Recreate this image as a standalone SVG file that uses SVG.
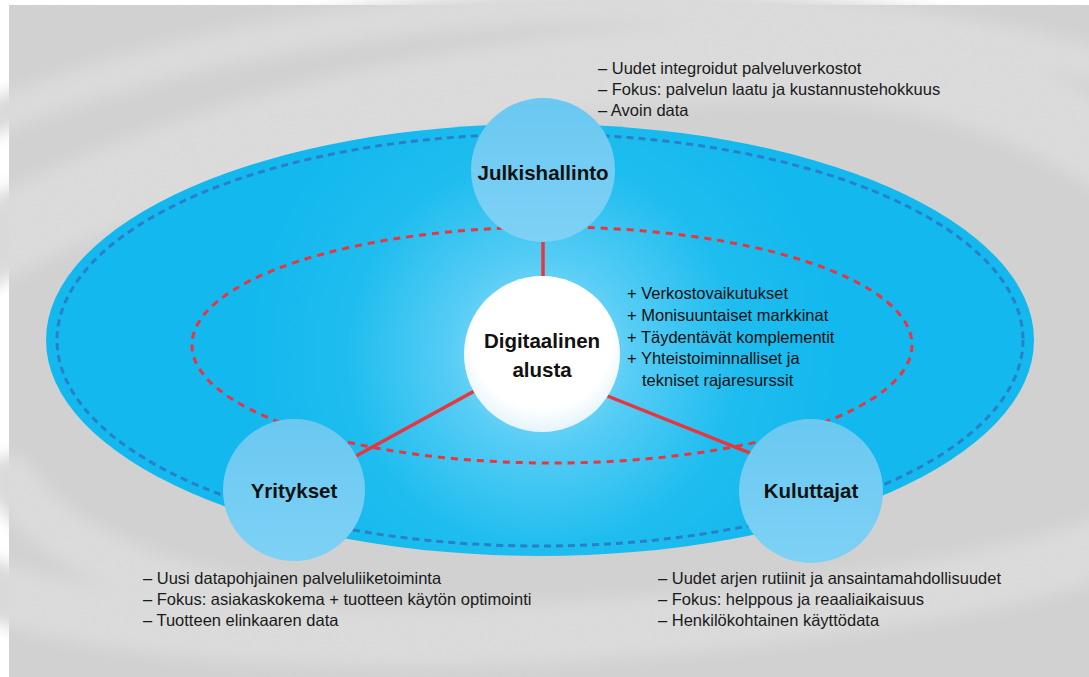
<svg xmlns="http://www.w3.org/2000/svg" width="1089" height="677" viewBox="0 0 1089 677">
<defs>
<style>
.lbl{font-family:"Liberation Sans",Arial,sans-serif;font-size:16.5px;fill:#1a1a1a}
.plus{font-family:"Liberation Sans",Arial,sans-serif;font-size:16.5px;fill:#111}
.ttl{font-family:"Liberation Sans",Arial,sans-serif;font-size:20.5px;font-weight:bold;fill:#111;text-anchor:middle}
.sat{fill:url(#satG)}
.conn{stroke:#e8363f;stroke-width:3.5;fill:none}
</style>
<radialGradient id="ellG" gradientUnits="userSpaceOnUse" cx="542" cy="354" r="300">
<stop offset="0" stop-color="#a8e6fa"/>
<stop offset="0.3" stop-color="#58cdf5"/>
<stop offset="0.65" stop-color="#1fbdef"/>
<stop offset="1" stop-color="#12b8ee"/>
</radialGradient>
<linearGradient id="satG" x1="0" y1="0" x2="0" y2="1">
<stop offset="0" stop-color="#6ac8f1"/>
<stop offset="1" stop-color="#7ed1f5"/>
</linearGradient>
<radialGradient id="whG" cx="0.5" cy="0.4" r="0.6">
<stop offset="0.75" stop-color="#ffffff"/>
<stop offset="1" stop-color="#e4f4fb"/>
</radialGradient>
<filter id="blur" x="-20%" y="-20%" width="140%" height="140%">
<feGaussianBlur stdDeviation="8"/>
</filter>
<filter id="noise" x="0" y="0" width="100%" height="100%">
<feTurbulence type="fractalNoise" baseFrequency="0.9" numOctaves="2" seed="3" result="n"/>
<feColorMatrix type="matrix" values="0 0 0 0 1  0 0 0 0 1  0 0 0 0 1  0 0 0 0.08 0" in="n"/>
</filter>
</defs>
<rect x="0" y="0" width="1089" height="677" fill="#ffffff"/>
<g id="background">
<rect x="9" y="5" width="1080" height="672" fill="#cfcfcf"/>
<g filter="url(#blur)" fill="none" stroke="#d9d9d9" stroke-linecap="round">
<path d="M -40 130 C 200 30, 500 -10, 760 10 C 900 20, 1000 40, 1120 70" stroke-width="35"/>
<path d="M -40 260 C 150 150, 450 70, 760 60 C 950 60, 1050 110, 1120 160" stroke-width="80"/>
<path d="M -40 580 C 150 650, 500 650, 800 610 C 950 590, 1050 570, 1120 540" stroke-width="60"/>
<path d="M 10 480 C 60 560, 200 600, 300 610" stroke-width="50"/>
</g>
<rect x="9" y="5" width="1080" height="672" filter="url(#noise)"/>
</g>
<g id="platform-field">
<ellipse cx="540" cy="340" rx="494" ry="216" fill="url(#ellG)"/>
<ellipse cx="540" cy="340" rx="483" ry="206" fill="none" stroke="#2b7fc6" stroke-width="3" stroke-dasharray="7 5"/>
<ellipse cx="552" cy="345" rx="360" ry="118" fill="none" stroke="#e8363f" stroke-width="3" stroke-dasharray="7 6"/>
</g>
<g id="connectors">
<line class="conn" x1="543" y1="236" x2="543" y2="290"/>
<line class="conn" x1="542" y1="354" x2="294" y2="490"/>
<line class="conn" x1="560" y1="377" x2="800" y2="473"/>
</g>
<g id="julkishallinto">
<circle class="sat" cx="543" cy="170" r="72"/>
<text class="ttl" x="543" y="180">Julkishallinto</text>
<text class="lbl" x="598" y="74">– Uudet integroidut palveluverkostot</text>
<text class="lbl" x="598" y="95">– Fokus: palvelun laatu ja kustannustehokkuus</text>
<text class="lbl" x="598" y="116">– Avoin data</text>
</g>
<g id="digitaalinen-alusta">
<circle cx="542" cy="354" r="78" fill="url(#whG)"/>
<text class="ttl" x="542" y="348">Digitaalinen</text>
<text class="ttl" x="542" y="377">alusta</text>
<text class="plus" x="627" y="299">+ Verkostovaikutukset</text>
<text class="plus" x="627" y="321">+ Monisuuntaiset markkinat</text>
<text class="plus" x="627" y="343">+ Täydentävät komplementit</text>
<text class="plus" x="627" y="364">+ Yhteistoiminnalliset ja</text>
<text class="plus" x="642" y="386">tekniset rajaresurssit</text>
</g>
<g id="yritykset">
<circle class="sat" cx="294" cy="490" r="71"/>
<text class="ttl" x="294" y="498">Yritykset</text>
<text class="lbl" x="143" y="584">– Uusi datapohjainen palveluliiketoiminta</text>
<text class="lbl" x="143" y="605">– Fokus: asiakaskokema + tuotteen käytön optimointi</text>
<text class="lbl" x="143" y="626">– Tuotteen elinkaaren data</text>
</g>
<g id="kuluttajat">
<circle class="sat" cx="811" cy="491" r="72"/>
<text class="ttl" x="811" y="498">Kuluttajat</text>
<text class="lbl" x="658" y="584">– Uudet arjen rutiinit ja ansaintamahdollisuudet</text>
<text class="lbl" x="658" y="605">– Fokus: helppous ja reaaliaikaisuus</text>
<text class="lbl" x="658" y="626">– Henkilökohtainen käyttödata</text>
</g>
</svg>
